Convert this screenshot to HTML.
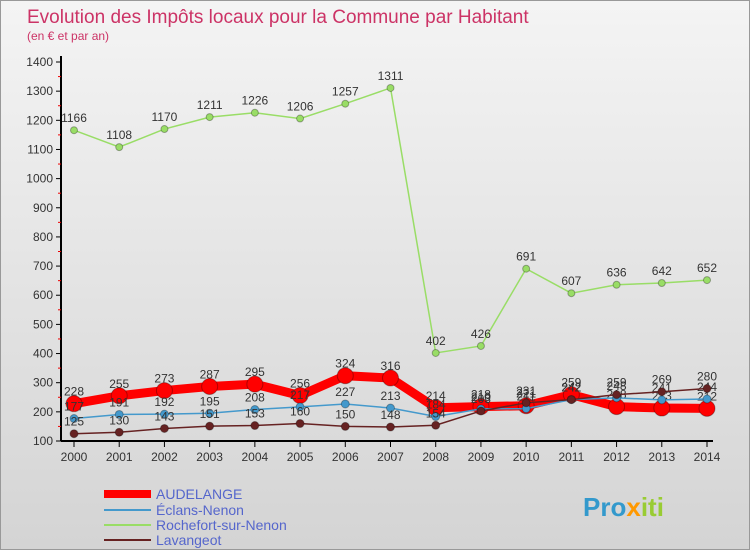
<!DOCTYPE html>
<html><head><meta charset="utf-8"><style>
body{margin:0;width:750px;height:550px;overflow:hidden;font-family:"Liberation Sans",sans-serif}
#wrap{position:relative;width:748px;height:548px;border:1px solid #999;background:linear-gradient(#f4f4f4,#d4d4d4)}
</style></head><body>
<div id="wrap">
<svg id="chart" width="748" height="548">
<text x="26" y="22" font-size="19" fill="#cc3366">Evolution des Impôts locaux pour la Commune par Habitant</text>
<text x="26" y="39" font-size="12" fill="#cc3366">(en € et par an)</text>
<g id="axes"></g><g id="series"></g>
<g>
<line x1="103" y1="493" x2="150" y2="493" stroke="#ff0000" stroke-width="8"/><text x="155" y="498" font-size="14" fill="#5566cc">AUDELANGE</text>
<line x1="103" y1="509" x2="150" y2="509" stroke="#4499cc" stroke-width="2"/><text x="155" y="514" font-size="14" fill="#5566cc">Éclans-Nenon</text>
<line x1="103" y1="524" x2="150" y2="524" stroke="#99dd66" stroke-width="2"/><text x="155" y="529" font-size="14" fill="#5566cc">Rochefort-sur-Nenon</text>
<line x1="103" y1="539" x2="150" y2="539" stroke="#662222" stroke-width="2"/><text x="155" y="544" font-size="14" fill="#5566cc">Lavangeot</text>
</g>
<text x="582" y="515" font-size="26" font-weight="bold" fill="#3399cc">Pro<tspan fill="#ff9900">x</tspan><tspan fill="#99cc33">iti</tspan></text>
</svg></div>
<script>
const years=[2000,2001,2002,2003,2004,2005,2006,2007,2008,2009,2010,2011,2012,2013,2014];
const yTicks=[100,200,300,400,500,600,700,800,900,1000,1100,1200,1300,1400];
const audelange=[228,255,273,287,295,256,324,316,214,218,221,259,218,213,212];
const eclans=[177,191,192,195,208,217,227,213,184,210,211,242,248,241,244];
const rochefort=[1166,1108,1170,1211,1226,1206,1257,1311,402,426,691,607,636,642,652];
const lavangeot=[125,130,143,151,153,160,150,148,154,203,231,242,259,269,280];
const NS="http://www.w3.org/2000/svg";
const x=i=>73+i*(706-73)/(years.length-1);
const y=v=>440-(v-100)*(440-61)/1300;
function mk(tag,attrs,parent){const e=document.createElementNS(NS,tag);for(const k in attrs)e.setAttribute(k,attrs[k]);parent.appendChild(e);return e;}
const ax=document.getElementById('axes'),sg=document.getElementById('series');
let a=mk('line',{x1:60,y1:55,x2:60,y2:440,stroke:'#000','stroke-width':2},ax);


a=mk('line',{x1:60,y1:440,x2:712,y2:440,stroke:'#000','stroke-width':2},ax);


yTicks.forEach(v=>{mk('line',{x1:55,y1:y(v),x2:60,y2:y(v),stroke:'#000'},ax);
if(v<1400)mk('line',{x1:57,y1:y(v+50),x2:60,y2:y(v+50),stroke:'#e00'},ax);
const t=mk('text',{x:52,y:y(v)+4,'font-size':12,'text-anchor':'end',fill:'#333'},ax);t.textContent=v;

});
years.forEach((yr,i)=>{mk('line',{x1:x(i),y1:440,x2:x(i),y2:446,stroke:'#000'},ax);
const t=mk('text',{x:x(i),y:460,'font-size':12,'text-anchor':'middle',fill:'#333'},ax);t.textContent=yr;

});
function series(vals,color,w,r,name){
const p=mk('polyline',{points:vals.map((v,i)=>x(i)+','+y(v)).join(' '),fill:'none',stroke:color,'stroke-width':w},sg);


vals.forEach((v,i)=>{const c=mk('circle',{cx:x(i),cy:y(v),r:r,fill:color,stroke:'rgba(0,0,0,0.3)'},sg);


const t=mk('text',{x:x(i),y:y(v)-8,'font-size':12,'text-anchor':'middle',fill:'#333'},sg);t.textContent=v;

});}
series(rochefort,'#99dd66',1.5,3.5,'rochefort');
series(audelange,'#ff0000',9,8,'audelange');
series(eclans,'#4499cc',1.5,4,'eclans');
series(lavangeot,'#662222',1.5,4,'lavangeot');
</script></body></html>
